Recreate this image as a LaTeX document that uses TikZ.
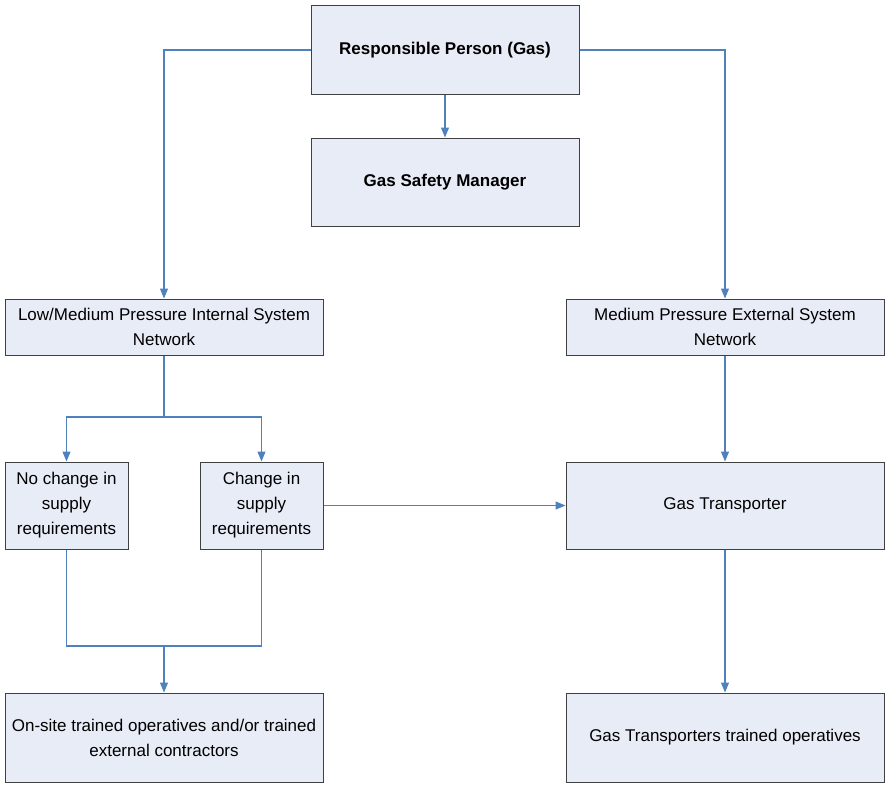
\documentclass[tikz,border=0pt]{standalone}
\usepackage{fontspec}
\setmainfont{Liberation Sans}
\usetikzlibrary{arrows.meta}
\definecolor{boxfill}{HTML}{E8ECF7}
\definecolor{boxline}{HTML}{404040}
\definecolor{linkblue}{HTML}{4F81BD}
\begin{document}
\begin{tikzpicture}[x=1pt,y=-1pt,
  box/.style={draw=boxline,fill=boxfill,line width=1pt,inner sep=0pt,
    align=center,font=\fontsize{17}{25}\selectfont},
  link/.style={draw=linkblue,line width=1.1pt},
  tip/.style={link,-{Triangle[length=10pt,width=8pt]}}]
\useasboundingbox (0,0) rectangle (885,784);
% boxes: (left,top) -- (right,bottom)
\newcommand\boxat[6]{%
  \node[box,minimum width=#4-#2,minimum height=#5-#3] (#1)
    at ({(#2+#4)/2},{(#3+#5)/2}) {#6};}
\boxat{rp}{311}{6}{579}{94}{\bfseries Responsible Person (Gas)}
\boxat{gsm}{311}{138}{579}{226}{\bfseries Gas Safety Manager}
\boxat{lm}{5}{299}{323}{355}{Low/Medium Pressure Internal System\\Network}
\boxat{mpe}{566}{299}{884}{355}{Medium Pressure External System\\Network}
\boxat{nc}{5}{462}{128}{549}{No change in\\supply\\requirements}
\boxat{ch}{200}{462}{323}{549}{Change in\\supply\\requirements}
\boxat{gt}{566}{462}{884}{549}{Gas Transporter}
\boxat{os}{5}{693}{323}{782}{On-site trained operatives and/or trained\\external contractors}
\boxat{gto}{566}{693}{884}{782}{Gas Transporters trained operatives}
% junction points
\coordinate (split) at (164,417);
\coordinate (join) at (164,646);
% connectors
\draw[tip] (rp.west) -| (lm.north);
\draw[tip] (rp.east) -| (mpe.north);
\draw[tip] (rp.south) -- (gsm.north);
\draw[link] (lm.south) -- (split);
\draw[tip] (split) -| (nc.north);
\draw[tip] (split) -| (ch.north);
\draw[link] (nc.south) |- (join) -| (ch.south);
\draw[tip] (join) -- (os.north);
\draw[tip] (ch.east) -- (gt.west);
\draw[tip] (mpe.south) -- (gt.north);
\draw[tip] (gt.south) -- (gto.north);
\end{tikzpicture}
\end{document}
